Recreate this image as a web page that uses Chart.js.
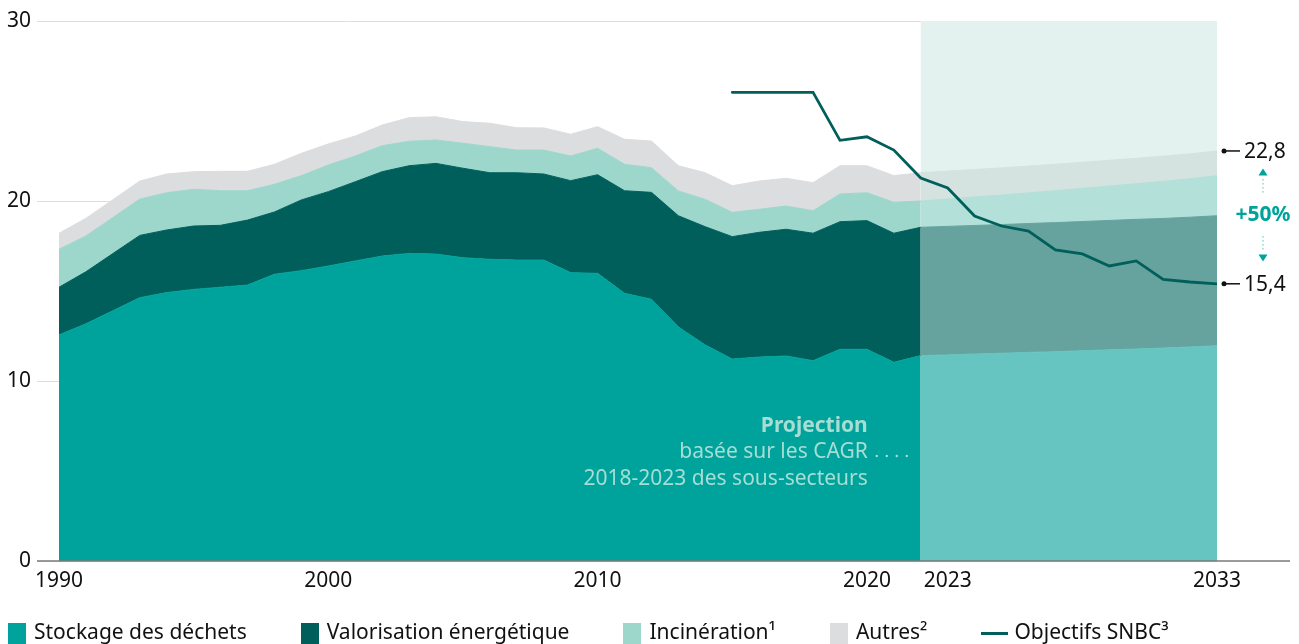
<!DOCTYPE html>
<html>
<head>
<meta charset="utf-8">
<script src="https://cdn.jsdelivr.net/npm/chart.js@4"></script>
<style>
  html, body { margin: 0; padding: 0; background: #fff; }
  #wrap { position: relative; width: 1299px; height: 644px; overflow: hidden; font-family: "Noto Sans", sans-serif; }
  #c { position: absolute; left: 0; top: 0; }
  #legend { position: absolute; left: 8px; top: 619px; display: flex; gap: 54px; font-size: 21px; line-height: 25px; color: #111; white-space: nowrap; }
  .item { display: flex; align-items: flex-start; }
  .sw { width: 18px; height: 22px; margin-top: 4px; margin-right: 8px; }
  .ln { width: 27px; height: 3px; margin-top: 13px; margin-right: 6px; }
</style>
</head>
<body>
<div id="wrap">
  <canvas id="c" width="1299" height="644"></canvas>
  <div id="legend"></div>
</div>
<script>
// ---- Data (MtCO2e) ----
const histYears = [1990,1991,1992,1993,1994,1995,1996,1997,1998,1999,2000,2001,2002,2003,2004,2005,2006,2007,2008,2009,2010,2011,2012,2013,2014,2015,2016,2017,2018,2019,2020,2021,2022];
const stockage     = [12.56,13.18,13.90,14.63,14.91,15.09,15.21,15.33,15.93,16.13,16.39,16.67,16.94,17.09,17.05,16.85,16.76,16.72,16.72,16.02,15.98,14.87,14.54,13.00,12.00,11.22,11.33,11.39,11.13,11.76,11.76,11.04,11.41];
const valorisation = [2.65,2.89,3.18,3.46,3.48,3.52,3.44,3.61,3.46,3.93,4.13,4.40,4.69,4.87,5.04,4.97,4.81,4.85,4.78,5.11,5.48,5.70,5.94,6.18,6.57,6.80,6.93,7.04,7.08,7.09,7.15,7.17,7.13];
const incineration = [2.11,1.99,2.00,2.02,2.07,2.04,1.92,1.63,1.54,1.35,1.48,1.43,1.44,1.36,1.30,1.39,1.45,1.26,1.33,1.37,1.47,1.47,1.37,1.38,1.52,1.35,1.28,1.29,1.25,1.54,1.55,1.72,1.46];
const autres       = [0.89,0.98,0.99,1.00,1.04,0.98,1.08,1.08,1.11,1.24,1.17,1.11,1.15,1.31,1.29,1.20,1.30,1.24,1.23,1.21,1.20,1.39,1.48,1.40,1.48,1.48,1.57,1.54,1.56,1.57,1.50,1.48,1.57];

const projYears = [2022,2023,2024,2025,2026,2027,2028,2029,2030,2031,2032,2033];
const projStockage     = [11.41,11.45,11.50,11.54,11.59,11.63,11.68,11.73,11.78,11.83,11.89,11.96];
const projValorisation = [7.13,7.14,7.14,7.15,7.16,7.17,7.18,7.19,7.20,7.20,7.21,7.22];
const projIncineration = [1.46,1.52,1.58,1.64,1.70,1.77,1.84,1.91,1.98,2.06,2.14,2.23];
const projAutres       = [1.57,1.55,1.53,1.51,1.49,1.47,1.45,1.43,1.41,1.40,1.38,1.37];

const snbcYears = [2015,2016,2017,2018,2019,2020,2021,2022,2023,2024,2025,2026,2027,2028,2029,2030,2031,2032,2033];
const snbc      = [26.04,26.04,26.04,26.04,23.37,23.57,22.83,21.28,20.72,19.17,18.61,18.33,17.28,17.06,16.39,16.67,15.65,15.50,15.40];

const xTickYears = [1990,2000,2010,2020,2023,2033];
const yTicks = [0,10,20,30];

const labels = ["Stockage des déchets","Valorisation énergétique","Incinération¹","Autres²","Objectifs SNBC³"];
const gapLabel = "+50%";

const C = {
  stock: "#00a39b", valo: "#005f5b", inc: "#9dd7cc", aut: "#dcdddf",
  pStock: "#66c5c0", pValo: "#66a39f", pInc: "#b3e0d8", pAut: "#d4e3e0",
  box: "#e3f2ef", snbc: "#005f5b", note: "#a6ddd4", accent: "#00a39b",
  text: "#111111", grid: "#dedede", base: "#7a7a7a"
};
const FONT = '"Noto Sans", sans-serif';

const xy = (xs, ys) => xs.map((x, i) => ({ x: x, y: ys[i] }));
function area(label, xs, ys, color, stack, fill) {
  return { label, data: xy(xs, ys), backgroundColor: color, borderColor: color, borderWidth: 1,
           fill, stack, pointRadius: 0, pointHoverRadius: 0, tension: 0 };
}

const datasets = [
  area(labels[0], histYears, stockage, C.stock, "hist", "origin"),
  area(labels[1], histYears, valorisation, C.valo, "hist", "-1"),
  area(labels[2], histYears, incineration, C.inc, "hist", "-1"),
  area(labels[3], histYears, autres, C.aut, "hist", "-1"),
  area(labels[0] + " (projection)", projYears, projStockage, C.pStock, "proj", "origin"),
  area(labels[1] + " (projection)", projYears, projValorisation, C.pValo, "proj", "-1"),
  area(labels[2] + " (projection)", projYears, projIncineration, C.pInc, "proj", "-1"),
  area(labels[3] + " (projection)", projYears, projAutres, C.pAut, "proj", "-1"),
  { label: labels[4], data: xy(snbcYears, snbc), borderColor: C.snbc, backgroundColor: C.snbc,
    borderWidth: 2.8, fill: false, stack: "snbc", order: -1, pointRadius: 0, tension: 0,
    borderJoinStyle: "miter", borderCapStyle: "round" }
];

const fmt = v => v.toFixed(1).replace(".", ",");

const annot = {
  id: "annot",
  beforeDatasetsDraw(chart) {
    const { ctx, chartArea: a, scales: { x } } = chart;
    const x0 = x.getPixelForValue(projYears[0]);
    const x1 = x.getPixelForValue(projYears[projYears.length - 1]);
    ctx.save();
    ctx.fillStyle = C.box;
    ctx.fillRect(x0, a.top, x1 - x0, a.bottom - a.top);
    ctx.restore();
  },
  afterDatasetsDraw(chart) {
    const { ctx, chartArea: a, scales: { x, y } } = chart;
    ctx.save();
    // baseline
    ctx.strokeStyle = C.base; ctx.lineWidth = 1.5;
    ctx.beginPath(); ctx.moveTo(a.left - 22, a.bottom); ctx.lineTo(a.right + 73, a.bottom); ctx.stroke();

    // projection note
    const bx = x.getPixelForValue(projYears[0]);
    ctx.fillStyle = C.note; ctx.textAlign = "right"; ctx.textBaseline = "middle";
    ctx.font = "bold 21px " + FONT;
    ctx.fillText("Projection", bx - 53, a.bottom - 135);
    ctx.font = "21px " + FONT;
    ctx.fillText("basée sur les CAGR", bx - 53, a.bottom - 109);
    ctx.fillText("2018-2023 des sous-secteurs", bx - 53, a.bottom - 82);
    for (let i = 0; i < 4; i++) {
      ctx.beginPath(); ctx.arc(bx - 44 + i * 10, a.bottom - 105, 1.2, 0, Math.PI * 2); ctx.fill();
    }

    // right-hand value labels
    const last = projYears.length - 1;
    const total = projStockage[last] + projValorisation[last] + projIncineration[last] + projAutres[last];
    const snbcLast = snbc[snbc.length - 1];
    const yTop = y.getPixelForValue(total);
    const yBot = y.getPixelForValue(snbcLast);
    ctx.fillStyle = C.text; ctx.strokeStyle = C.text; ctx.lineWidth = 1.5;
    ctx.textAlign = "left"; ctx.font = "21px " + FONT;
    [[yTop, total], [yBot, snbcLast]].forEach(([py, v]) => {
      ctx.beginPath(); ctx.arc(a.right + 7, py, 2.5, 0, Math.PI * 2); ctx.fill();
      ctx.beginPath(); ctx.moveTo(a.right + 7, py); ctx.lineTo(a.right + 23, py); ctx.stroke();
      ctx.fillText(fmt(v), a.right + 27, py + 1);
    });

    // +50%
    const cx = a.right + 46;
    const m = (yTop + yBot) / 2 - 2;
    ctx.fillStyle = C.accent; ctx.strokeStyle = C.accent;
    ctx.textAlign = "center"; ctx.font = "bold 21px " + FONT;
    ctx.fillText(gapLabel, cx, m);
    ctx.beginPath(); ctx.moveTo(cx, m - 47); ctx.lineTo(cx - 4.5, m - 40); ctx.lineTo(cx + 4.5, m - 40); ctx.closePath(); ctx.fill();
    ctx.beginPath(); ctx.moveTo(cx, m + 46); ctx.lineTo(cx - 4.5, m + 39); ctx.lineTo(cx + 4.5, m + 39); ctx.closePath(); ctx.fill();
    ctx.lineWidth = 1; ctx.setLineDash([1, 3]);
    ctx.beginPath(); ctx.moveTo(cx, m - 36); ctx.lineTo(cx, m - 22); ctx.stroke();
    ctx.beginPath(); ctx.moveTo(cx, m + 21); ctx.lineTo(cx, m + 35); ctx.stroke();
    ctx.restore();
  }
};

new Chart(document.getElementById("c"), {
  type: "line",
  data: { datasets },
  plugins: [annot],
  options: {
    responsive: false, animation: false, devicePixelRatio: 1,
    layout: { padding: { left: 0, right: 82, top: 21, bottom: 0 } },
    plugins: { legend: { display: false }, tooltip: { enabled: false } },
    elements: { line: { tension: 0 } },
    scales: {
      x: {
        type: "linear", min: 1990, max: 2033,
        grid: { display: false, drawTicks: false },
        border: { display: false },
        afterBuildTicks: s => { s.ticks = xTickYears.map(v => ({ value: v })); },
        afterFit: s => { s.height = 83; },
        ticks: { padding: 7, maxRotation: 0, autoSkip: false, color: C.text,
                 font: { family: FONT, size: 21 }, callback: v => String(v) }
      },
      y: {
        stacked: true, min: 0, max: 30,
        grid: { color: C.grid, lineWidth: 1, drawTicks: true, tickLength: 22, tickColor: C.grid },
        border: { display: false },
        afterBuildTicks: s => { s.ticks = yTicks.map(v => ({ value: v })); },
        afterFit: s => { s.width = 59; },
        ticks: { padding: 6, color: C.text, font: { family: FONT, size: 21 } }
      }
    }
  }
});

// HTML legend built from the same labels/colours
const legendItems = [
  { label: labels[0], color: C.stock, kind: "sw" },
  { label: labels[1], color: C.valo, kind: "sw" },
  { label: labels[2], color: C.inc, kind: "sw" },
  { label: labels[3], color: C.aut, kind: "sw" },
  { label: labels[4], color: C.snbc, kind: "ln" }
];
const lg = document.getElementById("legend");
legendItems.forEach(it => {
  const d = document.createElement("div"); d.className = "item";
  const m = document.createElement("span"); m.className = it.kind; m.style.background = it.color;
  const t = document.createElement("span"); t.textContent = it.label;
  d.appendChild(m); d.appendChild(t); lg.appendChild(d);
});
</script>
</body>
</html>
